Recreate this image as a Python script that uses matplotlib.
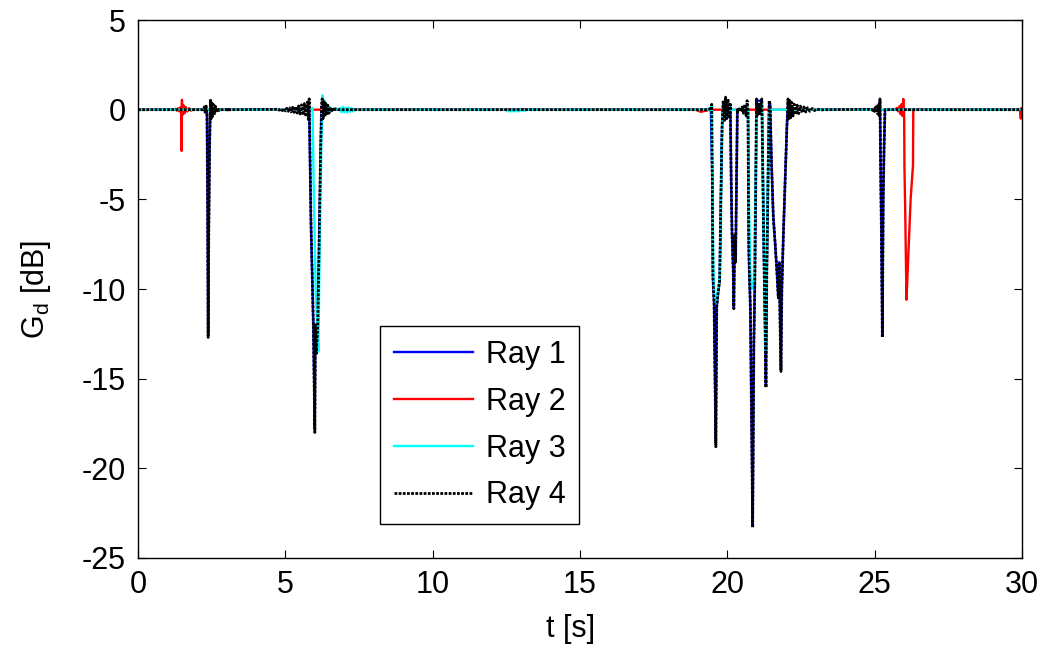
import numpy as np
import matplotlib
matplotlib.use("Agg")
import matplotlib.pyplot as plt

plt.rcParams['font.family'] = ['Liberation Sans', 'DejaVu Sans']
plt.rcParams['axes.unicode_minus'] = False

# (t [s], G_d [dB]) points

# Ray 1 (blue) - lies almost entirely under ray 4
ray1_pts = [(0, 0), (2.34, 0), (2.36, -5), (2.38, -12.5), (2.40, -7), (2.43, -2), (2.46, 0.5),
            (2.5, 0), (5.81, 0), (5.87, -6.4), (5.95, -12), (6.0, -17.8), (6.02, -12),
            (6.05, -13.5), (6.1, -12), (6.15, -7), (6.2, -2), (6.23, 0.2), (6.3, 0),
            (19.44, 0), (19.49, -4), (19.51, -9.3), (19.55, -10.8), (19.58, -15), (19.61, -18.6),
            (19.64, -11), (19.68, -10.3), (19.74, -9.5), (19.78, -5), (19.82, -1), (19.86, 0.4),
            (20.1, 0.3), (20.13, -4), (20.16, -7), (20.2, -9), (20.22, -11), (20.25, -7),
            (20.28, -8.5), (20.31, -4), (20.34, 0), (20.7, 0), (20.73, -8), (20.78, -11),
            (20.82, -17), (20.86, -23.1), (20.9, -13), (20.93, -10), (20.96, -5), (20.99, 0.5),
            (21.17, 0.5), (21.2, -3), (21.24, -8), (21.28, -12), (21.31, -15.4), (21.34, -9),
            (21.38, -4), (21.42, 0.4), (21.45, 0.3), (21.5, -3), (21.56, -6), (21.62, -7.4),
            (21.68, -9), (21.73, -10.5), (21.76, -8.5), (21.8, -13), (21.82, -14.5), (21.85, -10),
            (21.9, -7), (21.96, -4), (22.02, -1), (22.06, 0.5), (22.1, 0), (25.16, 0),
            (25.18, 0.5), (25.2, -3), (25.23, -7), (25.26, -12.5), (25.29, -5), (25.32, -2),
            (25.35, 0), (30, 0)]

# Ray 2 (red)
ray2_pts = [(0, 0), (1.25, 0), (1.28, 0.05), (1.32, -0.05), (1.36, 0.08), (1.4, -0.1), (1.44, 0.15),
            (1.47, -0.2), (1.48, -2.3), (1.49, 0.55), (1.51, -0.3), (1.54, 0.25), (1.58, -0.2),
            (1.62, 0.15), (1.67, -0.1), (1.73, 0.08), (1.8, -0.05), (1.9, 0.03), (2.0, 0),
            (18.9, 0), (19.0, -0.05), (19.1, -0.12), (19.3, -0.05), (19.4, 0), (25.7, 0),
            (25.75, 0.1), (25.8, -0.1), (25.85, 0.2), (25.88, -0.25), (25.91, 0.3), (25.94, -0.35),
            (25.97, 0.6), (26.0, -0.3), (26.01, -3.2), (26.03, -5), (26.08, -10.6), (26.12, -9),
            (26.16, -7.4), (26.22, -5), (26.3, -3.1), (26.31, 0), (29.93, 0), (29.96, -0.5),
            (29.98, 0.1), (30, -0.3)]

# Ray 3 (cyan)
ray3_pts = [(0, 0), (5.9, 0), (5.92, 0.1), (5.97, -5), (6.03, -10.2), (6.08, -12), (6.12, -13.5),
            (6.17, -7), (6.22, -2), (6.26, 0.8), (6.29, -0.4), (6.32, 0.5), (6.35, -0.3),
            (6.39, 0.3), (6.44, -0.2), (6.5, 0.15), (6.56, -0.1), (6.65, 0.05), (6.8, 0),
            (6.85, 0.1), (6.9, -0.15), (6.95, 0.15), (7.0, -0.15), (7.05, 0.12), (7.1, -0.15),
            (7.15, 0.12), (7.2, -0.12), (7.25, 0.1), (7.3, -0.1), (7.36, 0), (12.45, 0),
            (12.5, -0.02), (12.55, -0.1), (12.6, 0.02), (12.65, -0.1), (12.7, 0.02),
            (12.75, -0.1), (12.8, 0.02), (12.85, -0.1), (12.9, 0.02), (12.95, -0.1),
            (13.0, 0.02), (13.1, -0.06), (13.2, 0), (19.44, 0), (19.47, 0.2), (19.5, -5),
            (19.53, -9.3), (19.57, -10.5), (19.62, -10.8), (19.68, -10), (19.74, -9.3),
            (19.79, -4), (19.84, 0), (19.9, 0.5), (19.95, -0.3), (20.0, 0.4), (20.1, 0),
            (20.7, 0), (20.73, -5), (20.78, -9), (20.83, -10), (20.9, -9.5), (20.96, -4),
            (21.0, 0), (21.17, 0.4), (21.21, -4), (21.25, -9), (21.29, -13.5), (21.34, -8),
            (21.38, -3), (21.42, 0), (30, 0)]

# Ray 4 (black dotted)
ray4_pts = [(0, 0), (2.2, 0), (2.25, 0.15), (2.28, -0.15), (2.31, 0.2), (2.34, -0.3), (2.36, -5),
            (2.38, -12.7), (2.40, -7), (2.43, -2), (2.46, 0.6), (2.48, -0.5), (2.5, 0.45),
            (2.52, -0.4), (2.55, 0.3), (2.58, -0.3), (2.62, 0.2), (2.66, -0.15), (2.7, 0.1),
            (2.75, -0.05), (2.8, 0), (3.0, 0), (3.03, 0.1), (3.06, -0.1), (3.1, 0),
            (4.75, 0.02), (4.8, -0.03), (4.85, 0.04), (4.9, -0.05), (4.95, 0.06), (5.0, -0.07),
            (5.05, 0.08), (5.1, -0.09), (5.15, 0.1), (5.2, -0.12), (5.25, 0.13), (5.3, -0.15),
            (5.35, 0.17), (5.4, -0.19), (5.45, 0.21), (5.5, -0.24), (5.55, 0.27), (5.6, -0.3),
            (5.65, 0.34), (5.7, -0.38), (5.75, 0.43), (5.78, -0.55), (5.81, 0.6), (5.87, -6.4),
            (5.95, -12), (6.0, -18), (6.02, -12), (6.05, -13.6), (6.1, -12), (6.15, -7),
            (6.2, -2), (6.23, 0.3), (6.25, 0.6), (6.28, -0.5), (6.31, 0.45), (6.34, -0.4),
            (6.37, 0.35), (6.4, -0.3), (6.44, 0.25), (6.48, -0.2), (6.52, 0.15), (6.56, -0.12),
            (6.6, 0.1), (6.65, -0.08), (6.7, 0.05), (6.8, 0),
            (19.3, 0), (19.4, 0.05), (19.44, -0.05), (19.47, 0.3), (19.49, -4), (19.51, -9.3),
            (19.55, -10.8), (19.58, -15), (19.61, -18.8), (19.64, -11), (19.68, -10.3),
            (19.74, -9.5), (19.78, -5), (19.82, -1), (19.86, 0.5), (19.9, -0.6), (19.94, 0.7),
            (19.98, -0.5), (20.02, 0.6), (20.06, -0.4), (20.1, 0.3), (20.13, -4), (20.16, -7),
            (20.2, -9), (20.22, -11.1), (20.25, -7), (20.28, -8.5), (20.31, -4), (20.34, 0),
            (20.36, -0.1), (20.4, 0.05), (20.45, -0.1), (20.5, 0.15), (20.55, -0.2), (20.6, 0.3),
            (20.64, -0.35), (20.67, 0.5), (20.7, 0), (20.73, -8), (20.78, -11), (20.82, -17),
            (20.86, -23.3), (20.9, -13), (20.93, -10), (20.96, -5), (20.99, 0.6), (21.02, -0.3),
            (21.06, 0.3), (21.1, -0.3), (21.14, 0.4), (21.17, 0.6), (21.2, -3), (21.24, -8),
            (21.28, -12), (21.31, -15.5), (21.34, -9), (21.38, -4), (21.42, 0.5), (21.45, 0.3),
            (21.5, -3), (21.56, -6), (21.62, -7.4), (21.68, -9), (21.73, -10.5), (21.76, -8.5),
            (21.8, -13), (21.82, -14.6), (21.85, -10), (21.9, -7), (21.96, -4), (22.02, -1),
            (22.06, 0.6), (22.09, -0.5), (22.12, 0.5), (22.15, -0.45), (22.19, 0.4),
            (22.23, -0.35), (22.27, 0.3), (22.32, -0.28), (22.37, 0.25), (22.42, -0.22),
            (22.48, 0.2), (22.54, -0.17), (22.6, 0.15), (22.66, -0.13), (22.72, 0.11),
            (22.8, -0.09), (22.88, 0.07), (22.96, -0.05), (23.05, 0.04), (23.15, -0.02),
            (23.3, 0), (24.9, 0.02), (24.93, -0.04), (24.96, 0.06), (24.99, -0.09), (25.02, 0.12),
            (25.05, -0.16), (25.08, 0.2), (25.11, -0.25), (25.14, 0.3), (25.16, -0.35),
            (25.18, 0.6), (25.2, -3), (25.23, -7), (25.26, -12.7), (25.29, -5), (25.32, -2),
            (25.35, 0), (30, 0)]

ray_names = ['Ray 1', 'Ray 2', 'Ray 3', 'Ray 4']
ray_colors = ['#0000ff', '#ff0000', '#00ffff', 'black']

fig = plt.figure(figsize=(10.48, 6.48), dpi=100)
ax = fig.add_axes([0.1317, 0.1389, 0.8435, 0.8302])

for pts, name, col in zip([ray1_pts, ray2_pts, ray3_pts, ray4_pts], ray_names, ray_colors):
    t, g = np.array(pts).T
    if name == 'Ray 4':
        ax.plot(t, g, color=col, lw=2, ls=(0, (1, 0.5)), label=name)
    else:
        ax.plot(t, g, color=col, lw=1.7, label=name)

ax.set_xlim(0, 30)
ax.set_ylim(-25, 5)
ax.set_xticks(np.arange(0, 31, 5))
ax.set_yticks(np.arange(-25, 6, 5))
ax.tick_params(direction='in', top=True, right=True, length=6, labelsize=22, pad=9)
for s in ax.spines.values():
    s.set_linewidth(1)

ax.set_xlabel('t [s]', fontsize=22, labelpad=10)
ax.xaxis.set_label_coords(0.489, -0.105)
ax.set_ylabel('G$_\\mathregular{d}$ [dB]', fontsize=22, labelpad=20)

leg = ax.legend(loc='lower left', bbox_to_anchor=(0.274, 0.063), borderaxespad=0,
                fontsize=22, handlelength=2.6, handletextpad=0.4, labelspacing=0.55,
                borderpad=0.45, fancybox=False, framealpha=1, edgecolor='black')
leg.get_frame().set_linewidth(1)

fig.savefig('out.png', dpi=100)
